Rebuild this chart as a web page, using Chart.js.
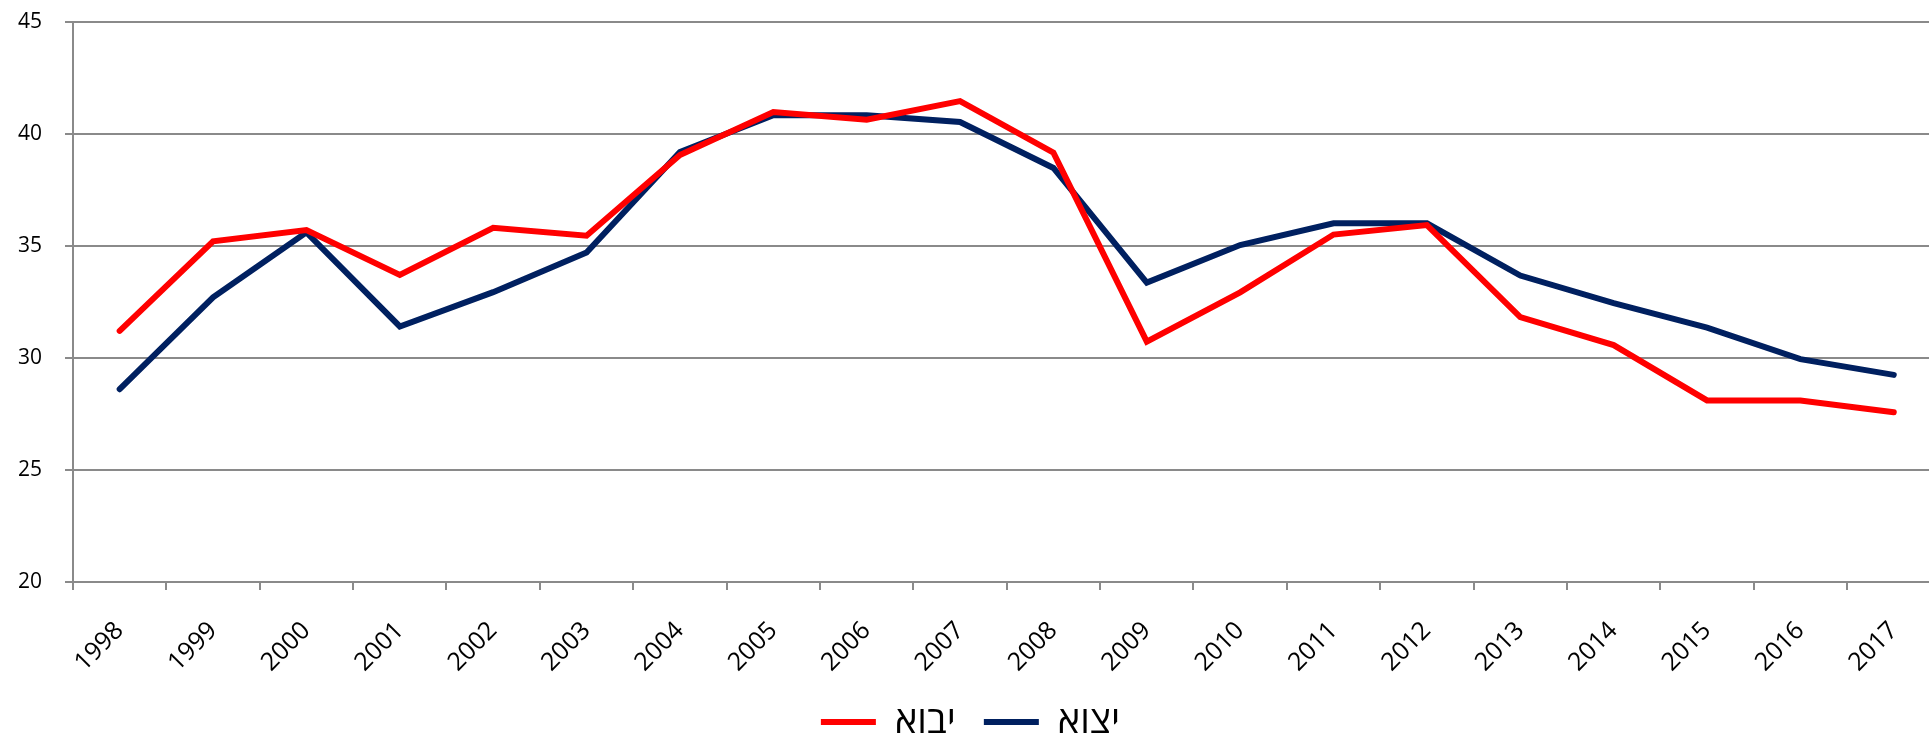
<!DOCTYPE html>
<html>
<head>
<meta charset="utf-8">
<script src="https://cdn.jsdelivr.net/npm/chart.js@4/dist/chart.umd.min.js"></script>
<style>
  html, body { margin: 0; padding: 0; background: #fff; overflow: hidden; }
  #wrap { width: 1941px; height: 765px; margin-top: -14px; position: relative; }
</style>
</head>
<body>
<div id="wrap"><canvas id="tradeChart"></canvas></div>
<script>
const years = ['1998', '1999', '2000', '2001', '2002', '2003', '2004', '2005', '2006', '2007',
    '2008', '2009', '2010', '2011', '2012', '2013', '2014', '2015', '2016', '2017']
const imports = [31.2, 35.2, 35.7, 33.7, 35.8, 35.45, 39.05, 40.97, 40.62, 41.45,
    39.15, 30.72, 32.92, 35.5, 35.92, 31.82, 30.57, 28.1, 28.1, 27.57]
const exports = [28.6, 32.7, 35.6, 31.4, 32.93, 34.7, 39.18, 40.82, 40.82, 40.52,
    38.47, 33.36, 35.03, 36.0, 36.0, 33.67, 32.44, 31.35, 29.94, 29.24]
const importLabel = 'יבוא'
const exportLabel = 'יצוא'

const gridColor = '#8a8a8a'
const fontFamily = "'Open Sans', sans-serif"

const ctx = document.getElementById('tradeChart').getContext('2d');
const tradeChart = new Chart(ctx, {
    type: 'line',
    data: {
        labels: years,
        datasets: [{
            label: importLabel,
            data: imports,
            borderColor: '#ff0000',
            backgroundColor: '#ff0000',
            borderWidth: 6,
            borderCapStyle: 'round',
            pointRadius: 0,
            tension: 0
        }, {
            label: exportLabel,
            data: exports,
            borderColor: '#002060',
            backgroundColor: '#002060',
            borderWidth: 6,
            borderCapStyle: 'round',
            pointRadius: 0,
            tension: 0
        }]
    },
    options: {
        responsive: true,
        maintainAspectRatio: false,
        animation: false,
        layout: {
            padding: { top: 0, left: 0, right: 0, bottom: 0 }
        },
        plugins: {
            legend: {
                position: 'bottom',
                labels: {
                    usePointStyle: true,
                    pointStyle: 'line',
                    pointStyleWidth: 55,
                    color: '#000',
                    padding: 28,
                    font: { family: fontFamily, size: 38 }
                }
            },
            tooltip: { enabled: false }
        },
        scales: {
            x: {
                offset: true,
                afterFit: scale => { scale.height = 93 },
                grid: {
                    offset: true,
                    drawOnChartArea: false,
                    drawTicks: true,
                    tickLength: 8,
                    color: gridColor,
                    lineWidth: 2
                },
                border: { display: true, color: gridColor, width: 2 },
                ticks: {
                    color: '#000',
                    minRotation: 45,
                    maxRotation: 45,
                    padding: 26,
                    font: { family: fontFamily, size: 25 }
                }
            },
            y: {
                min: 20,
                max: 45,
                afterFit: scale => { scale.width = 73 },
                grid: {
                    color: gridColor,
                    lineWidth: 2,
                    drawTicks: true,
                    tickLength: 8
                },
                border: { display: true, color: gridColor, width: 2 },
                ticks: {
                    stepSize: 5,
                    color: '#000',
                    padding: 23,
                    font: { family: fontFamily, size: 21 }
                }
            }
        }
    }
});
</script>
</body>
</html>
